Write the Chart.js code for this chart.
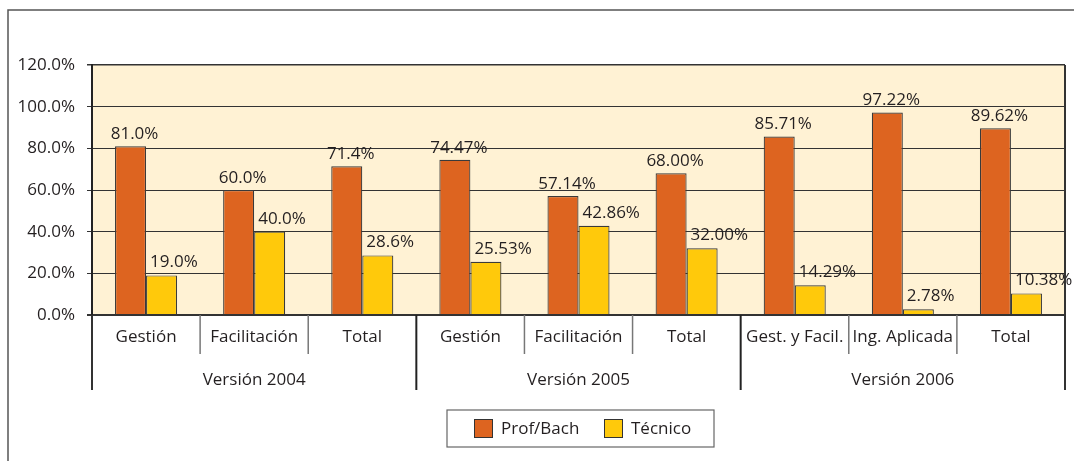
<!DOCTYPE html>
<html>
<head>
<meta charset="utf-8">
<script src="https://cdn.jsdelivr.net/npm/chart.js@4/dist/chart.umd.min.js"></script>
<style>
html, body { margin: 0; padding: 0; background: #fff; }
#wrap { width: 1074px; height: 461px; position: relative; }
</style>
</head>
<body>
<div id="wrap"><canvas id="chart"></canvas></div>
<script>
// datos del gráfico
var categories = ['Gestión', 'Facilitación', 'Total', 'Gestión', 'Facilitación', 'Total', 'Gest. y Facil.', 'Ing. Aplicada', 'Total'];
var groups = ['Versión 2004', 'Versión 2005', 'Versión 2006'];
var groupSizes = [3, 3, 3];
var profBach = [81.0, 60.0, 71.4, 74.47, 57.14, 68.00, 85.71, 97.22, 89.62];
var tecnico = [19.0, 40.0, 28.6, 25.53, 42.86, 32.00, 14.29, 2.78, 10.38];
var profLabels = ['81.0%', '60.0%', '71.4%', '74.47%', '57.14%', '68.00%', '85.71%', '97.22%', '89.62%'];
var tecLabels = ['19.0%', '40.0%', '28.6%', '25.53%', '42.86%', '32.00%', '14.29%', '2.78%', '10.38%'];
var yTickLabels = ['0.0%', '20.0%', '40.0%', '60.0%', '80.0%', '100.0%', '120.0%'];
var seriesNames = ['Prof/Bach', 'Técnico'];

var FONT = '17px "Open Sans", sans-serif';
var TEXT = '#231f20';

// fondo del área y marco exterior
var backPlugin = {
	id: 'backPlugin',
	beforeDraw(chart) {
		var ctx = chart.ctx;
		var a = chart.chartArea;
		ctx.save();
		ctx.fillStyle = '#fff2d4';
		ctx.fillRect(a.left, a.top, a.right - a.left, a.bottom - a.top);
		ctx.strokeStyle = '#555';
		ctx.lineWidth = 1.5;
		ctx.beginPath();
		ctx.moveTo(8, 461);
		ctx.lineTo(8, 10);
		ctx.lineTo(1074, 10);
		ctx.stroke();
		ctx.restore();
	}
};

// etiquetas de barras, eje x de dos niveles y leyenda
var drawPlugin = {
	id: 'drawPlugin',
	afterDraw(chart) {
		var ctx = chart.ctx;
		var a = chart.chartArea;
		var x = chart.scales.x;
		var half = (x.getPixelForValue(1) - x.getPixelForValue(0)) / 2;
		ctx.save();
		ctx.font = FONT;
		ctx.fillStyle = TEXT;
		ctx.textBaseline = 'alphabetic';

		// valores sobre las barras
		var m0 = chart.getDatasetMeta(0);
		var m1 = chart.getDatasetMeta(1);
		m0.data.forEach((bar, i) => {
			ctx.textAlign = 'center';
			ctx.fillText(profLabels[i], bar.x + 4, bar.y - 7);
		});
		m1.data.forEach((bar, i) => {
			ctx.textAlign = 'left';
			ctx.fillText(tecLabels[i], bar.x - bar.width / 2 + 4, bar.y - 8);
		});

		// borde derecho del área
		ctx.strokeStyle = '#333';
		ctx.lineWidth = 2;
		ctx.beginPath();
		ctx.moveTo(a.right, a.top);
		ctx.lineTo(a.right, 390);
		ctx.moveTo(a.left, a.bottom);
		ctx.lineTo(a.left, 390);
		ctx.stroke();

		// separadores de categorías y grupos
		var idx = 0;
		var boundaries = {};
		groupSizes.forEach(n => { idx += n; boundaries[idx] = true; });
		for (var i = 1; i < categories.length; i++) {
			var bx = x.getPixelForValue(i) - half;
			ctx.beginPath();
			if (boundaries[i]) {
				ctx.strokeStyle = '#222';
				ctx.lineWidth = 2;
				ctx.moveTo(bx, a.bottom);
				ctx.lineTo(bx, 390);
			} else {
				ctx.strokeStyle = '#777';
				ctx.lineWidth = 1.5;
				ctx.moveTo(bx, a.bottom);
				ctx.lineTo(bx, 354);
			}
			ctx.stroke();
		}

		// nombres de categorías
		ctx.textAlign = 'center';
		ctx.textBaseline = 'middle';
		categories.forEach((c, i) => {
			ctx.fillText(c, x.getPixelForValue(i), 337);
		});

		// nombres de grupos
		var start = 0;
		groups.forEach((g, gi) => {
			var end = start + groupSizes[gi] - 1;
			var cx = (x.getPixelForValue(start) + x.getPixelForValue(end)) / 2;
			ctx.fillText(g, cx, 380);
			start = end + 1;
		});

		// leyenda
		ctx.strokeStyle = '#666';
		ctx.lineWidth = 1.2;
		ctx.strokeRect(447, 410, 267, 37);
		var items = [
			{x: 474, text: seriesNames[0], color: chart.data.datasets[0].backgroundColor},
			{x: 604, text: seriesNames[1], color: chart.data.datasets[1].backgroundColor},
		];
		items.forEach(it => {
			ctx.fillStyle = it.color;
			ctx.fillRect(it.x, 419, 19, 19);
			ctx.strokeStyle = '#333';
			ctx.lineWidth = 1;
			ctx.strokeRect(it.x + 0.5, 419.5, 18, 18);
			ctx.fillStyle = TEXT;
			ctx.textAlign = 'left';
			ctx.fillText(it.text, it.x + 27, 429);
		});
		ctx.restore();
	}
};

var chart = new Chart(document.getElementById('chart'), {
	type: 'bar',
	data: {
		labels: categories,
		datasets: [{
			label: seriesNames[0],
			data: profBach,
			backgroundColor: '#dd6420',
			borderColor: '#3a3a3a',
			borderWidth: 1.2,
		}, {
			label: seriesNames[1],
			data: tecnico,
			backgroundColor: '#ffc90b',
			borderColor: '#3a3a3a',
			borderWidth: 1.2,
		}]
	},
	options: {
		responsive: true,
		maintainAspectRatio: false,
		animation: false,
		layout: {
			padding: {left: 0, top: 65, right: 9, bottom: 146}
		},
		datasets: {
			bar: {
				barPercentage: 1,
				categoryPercentage: 0.574,
			}
		},
		plugins: {
			legend: {display: false},
			tooltip: {enabled: false},
		},
		scales: {
			x: {
				display: false,
			},
			y: {
				min: 0,
				max: 120,
				afterFit(scale) { scale.width = 92; },
				ticks: {
					stepSize: 20,
					padding: 12,
					color: TEXT,
					font: {family: '"Open Sans", sans-serif', size: 17},
					callback: (v, i) => yTickLabels[i],
				},
				grid: {
					color: '#333',
					lineWidth: c => (c.tick && c.tick.value === 0) ? 2 : (c.tick && c.tick.value === 120 ? 1.5 : 1),
					tickLength: 5,
				},
				border: {
					color: '#222',
					width: 2,
				}
			}
		}
	},
	plugins: [backPlugin, drawPlugin]
});
</script>
</body>
</html>
